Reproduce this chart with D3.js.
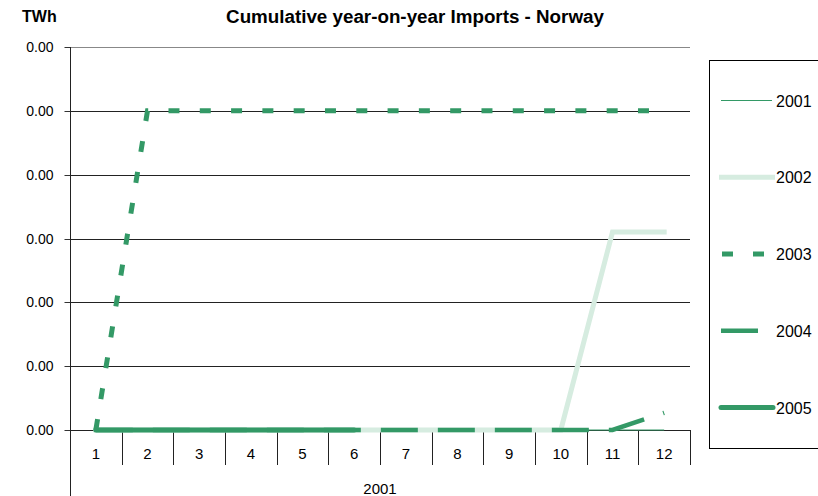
<!DOCTYPE html>
<html>
<head>
<meta charset="utf-8">
<script src="https://cdn.jsdelivr.net/npm/d3@7"></script>
<style>
  body { margin: 0; background: #fff; }
  svg { display: block; font-family: "Liberation Sans", Arial, sans-serif; }
</style>
</head>
<body>
<svg id="chart" width="818" height="496"></svg>
<script>
// Months of the year on the category axis
const months = ["1","2","3","4","5","6","7","8","9","10","11","12"];
const groupLabel = "2001";

// Cumulative imports (TWh) per year; null = no data
const s2001 = [0,0,0,0,0,0,0,0,0,0,0,0];
const s2002 = [0,0,0,0,0,0,0,0,0,0,0.00155,0.00155];
const s2003 = [0,0.0025,0.0025,0.0025,0.0025,0.0025,0.0025,0.0025,0.0025,0.0025,0.0025,0.0025];
const s2004 = [0,0,0,0,0,0,0,0,0,0,0,0.000135];
const s2005 = [0,0,0,0,0,0,null,null,null,null,null,null];

const yTicks = [0,0.0005,0.001,0.0015,0.002,0.0025,0.003];

const series = [
  {name:"2001", values:s2001, color:"#339966", width:1, dash:null, cap:"butt"},
  {name:"2002", values:s2002, color:"#d6ece0", width:5, dash:null, cap:"square"},
  {name:"2003", values:s2003, color:"#339966", width:5, dash:"11,20.3", cap:"butt"},
  {name:"2004", values:s2004, color:"#339966", width:4.5, dash:"37,20", cap:"butt"},
  {name:"2005", values:s2005, color:"#339966", width:5, dash:null, cap:"round"}
];

const svg = d3.select("#chart");
const mLeft = 70, mRight = 690, mTop = 47, mBottom = 430;

const x = d3.scaleBand().domain(months).range([mLeft, mRight]).padding(0);
const y = d3.scaleLinear().domain([0, 0.003]).range([mBottom, mTop]);
const cx = m => x(m) + x.bandwidth() / 2;

// Title and unit
svg.append("text").attr("x", 415).attr("y", 23).attr("text-anchor", "middle")
  .attr("font-size", 18.8).attr("font-weight", "bold").text("Cumulative year-on-year Imports - Norway");
svg.append("text").attr("x", 22).attr("y", 22)
  .attr("font-size", 16).attr("font-weight", "bold").text("TWh");

// Horizontal gridlines
svg.append("g").selectAll("line").data(yTicks).join("line")
  .attr("x1", mLeft).attr("x2", mRight)
  .attr("y1", d => Math.round(y(d)) + 0.5).attr("y2", d => Math.round(y(d)) + 0.5)
  .attr("stroke", (d, i) => i === yTicks.length - 1 ? "#888" : "#222")
  .attr("stroke-width", 1);

// Y axis with tick labels
const yAxis = d3.axisLeft(y).tickValues(yTicks).tickFormat(d3.format(".2f"))
  .tickSize(6).tickPadding(11);
const gy = svg.append("g").attr("transform", `translate(${mLeft + 0.5},0.5)`).call(yAxis);
gy.select(".domain").remove();
gy.selectAll(".tick line").attr("stroke", "#333");
gy.selectAll(".tick text").attr("font-size", 14).attr("fill", "#000")
  .attr("font-family", "Liberation Sans, Arial, sans-serif");
gy.selectAll(".tick").attr("transform", d => `translate(0,${Math.round(y(d))})`);

// Left axis line runs through the category area
svg.append("line").attr("x1", mLeft + 0.5).attr("x2", mLeft + 0.5)
  .attr("y1", mTop).attr("y2", 496).attr("stroke", "#222");

// Category boundaries
const bounds = months.map(m => x(m)).concat([x(months[months.length - 1]) + x.bandwidth()]);
svg.append("g").selectAll("line").data(bounds.slice(1)).join("line")
  .attr("x1", d => Math.round(d) + 0.5).attr("x2", d => Math.round(d) + 0.5)
  .attr("y1", mBottom).attr("y2", 465).attr("stroke", "#222");

// Month labels
svg.append("g").selectAll("text").data(months).join("text")
  .attr("x", d => cx(d)).attr("y", 459).attr("text-anchor", "middle")
  .attr("font-size", 15).text(d => d);

// Year group label
svg.append("text").attr("x", (mLeft + mRight) / 2).attr("y", 494).attr("text-anchor", "middle")
  .attr("font-size", 15).text(groupLabel);

// Series lines
const line = d3.line()
  .defined(d => d.v !== null)
  .x(d => cx(d.m)).y(d => y(d.v));

const gLines = svg.append("g").attr("fill", "none");
series.forEach(s => {
  const pts = months.map((m, i) => ({m, v: s.values[i]}));
  gLines.append("path").datum(pts)
    .attr("d", line)
    .attr("stroke", s.color)
    .attr("stroke-width", s.width)
    .attr("stroke-dasharray", s.dash)
    .attr("stroke-linecap", s.cap)
    .attr("stroke-linejoin", "miter");
});

// Legend
const lg = svg.append("g");
lg.append("rect").attr("x", 709.5).attr("y", 60.5).attr("width", 130).attr("height", 388)
  .attr("fill", "#fff").attr("stroke", "#000");
const legY = d3.scalePoint().domain(series.map(s => s.name)).range([100.5, 407.5]);
const sampleSpan = {"2001":[721,772], "2002":[719,775], "2003":[722,764], "2004":[721,758], "2005":[721,773]};
series.forEach(s => {
  const yy = legY(s.name);
  const sample = sampleSpan[s.name];
  lg.append("line").attr("x1", sample[0]).attr("x2", sample[1]).attr("y1", yy).attr("y2", yy)
    .attr("stroke", s.color).attr("stroke-width", s.width)
    .attr("stroke-dasharray", s.name === "2003" ? "11,20" : null)
    .attr("stroke-linecap", s.cap === "square" ? "butt" : s.cap);
  lg.append("text").attr("x", 776).attr("y", yy + 6).attr("font-size", 16).text(s.name);
});
</script>
</body>
</html>
